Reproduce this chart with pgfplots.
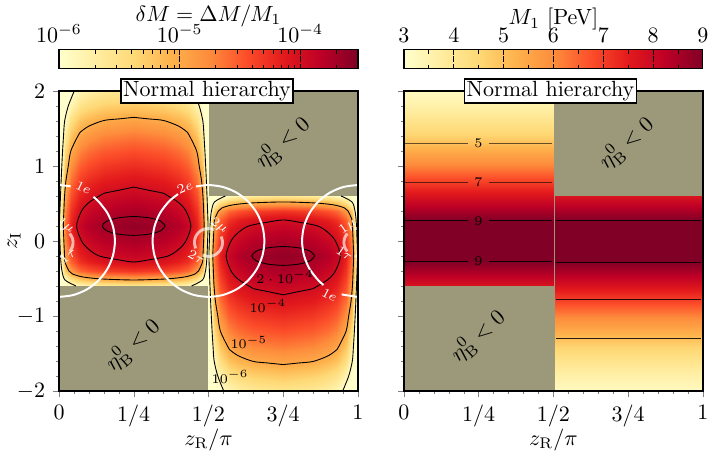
\documentclass[border=0pt]{standalone}
\usepackage{pgfplots}
\usepackage{pgfplotstable}
\pgfplotsset{compat=1.18}
\definecolor{bggray}{RGB}{156,153,123}
\tikzset{
 clab/.style={font=\fontsize{6}{7}\selectfont},
 wlab/.style={font=\fontsize{6}{7}\selectfont, text=white},
}
\pgfplotsset{
 colormap={ylorrd}{rgb255=(255,255,204) rgb255=(255,237,160) rgb255=(254,217,118) rgb255=(254,178,76) rgb255=(253,141,60) rgb255=(252,78,42) rgb255=(227,26,28) rgb255=(189,0,38) rgb255=(128,0,38)},
 mainax/.style={
   scale only axis, width=135.9pt, height=136.4pt,
   xmin=0,xmax=1,ymin=-2,ymax=2,
   axis background/.style={fill=bggray},
   axis on top, clip mode=individual,
   axis line style={line width=0.6pt},
   tick align=outside, tick pos=left,
   xtick={0,0.25,0.5,0.75,1}, xticklabels={$0$,$1/4$,$1/2$,$3/4$,$1$},
   minor x tick num=4, ytick={-2,-1,0,1,2}, minor y tick num=4,
   major tick length=2.8pt, minor tick length=1.5pt,
   xlabel={$z_{\mathrm{R}}/\pi$},
   xlabel style={at={(axis description cs:0.5,-0.163)},anchor=center},
   colorbar horizontal,
   colorbar style={at={(parent axis.north west)}, anchor=south west, yshift=18.6pt,
     width=135.9pt, height=8.6pt, scale only axis,
     xticklabel pos=right, xtick pos=both, tick align=inside,
     major tick length=8.6pt, minor tick length=1.8pt, axis on top,
     major tick style={black, line width=0.4pt, dash pattern=on 2.2pt off 1.2pt},
     minor tick style={black, line width=0.4pt},
     xlabel style={yshift=-8pt},
     axis line style={line width=0.5pt}},
 },
}
\pgfplotstableread[row sep=\\]{
x y c xr yr\\
0 2 -6 1 -2\\ 0.01 2 -6 0.99 -2\\ 0.02 2 -6 0.98 -2\\ 0.04 2 -6 0.96 -2\\ 0.07 2 -5.83 0.93 -2\\ 0.1 2 -5.72 0.9 -2\\ 0.15 2 -5.62 0.85 -2\\ 0.25 2 -5.55 0.75 -2\\ 0.35 2 -5.62 0.65 -2\\ 0.4 2 -5.72 0.6 -2\\ 0.43 2 -5.83 0.57 -2\\ 0.46 2 -6 0.54 -2\\ 0.48 2 -6 0.52 -2\\ 0.49 2 -6 0.51 -2\\ 0.5 2 -6 0.5 -2\\
0 1.8 -6 1 -1.8\\ 0.01 1.8 -6 0.99 -1.8\\ 0.02 1.8 -6 0.98 -1.8\\ 0.04 1.8 -5.8 0.96 -1.8\\ 0.07 1.8 -5.53 0.93 -1.8\\ 0.1 1.8 -5.42 0.9 -1.8\\ 0.15 1.8 -5.32 0.85 -1.8\\ 0.25 1.8 -5.25 0.75 -1.8\\ 0.35 1.8 -5.32 0.65 -1.8\\ 0.4 1.8 -5.42 0.6 -1.8\\ 0.43 1.8 -5.53 0.57 -1.8\\ 0.46 1.8 -5.8 0.54 -1.8\\ 0.48 1.8 -6 0.52 -1.8\\ 0.49 1.8 -6 0.51 -1.8\\ 0.5 1.8 -6 0.5 -1.8\\
0 1.6 -6 1 -1.6\\ 0.01 1.6 -6 0.99 -1.6\\ 0.02 1.6 -5.92 0.98 -1.6\\ 0.04 1.6 -5.47 0.96 -1.6\\ 0.07 1.6 -5.2 0.93 -1.6\\ 0.1 1.6 -5.09 0.9 -1.6\\ 0.15 1.6 -4.99 0.85 -1.6\\ 0.25 1.6 -4.92 0.75 -1.6\\ 0.35 1.6 -4.99 0.65 -1.6\\ 0.4 1.6 -5.09 0.6 -1.6\\ 0.43 1.6 -5.2 0.57 -1.6\\ 0.46 1.6 -5.47 0.54 -1.6\\ 0.48 1.6 -5.92 0.52 -1.6\\ 0.49 1.6 -6 0.51 -1.6\\ 0.5 1.6 -6 0.5 -1.6\\
0 1.4 -6 1 -1.4\\ 0.01 1.4 -6 0.99 -1.4\\ 0.02 1.4 -5.66 0.98 -1.4\\ 0.04 1.4 -5.21 0.96 -1.4\\ 0.07 1.4 -4.94 0.93 -1.4\\ 0.1 1.4 -4.83 0.9 -1.4\\ 0.15 1.4 -4.73 0.85 -1.4\\ 0.25 1.4 -4.66 0.75 -1.4\\ 0.35 1.4 -4.73 0.65 -1.4\\ 0.4 1.4 -4.83 0.6 -1.4\\ 0.43 1.4 -4.94 0.57 -1.4\\ 0.46 1.4 -5.21 0.54 -1.4\\ 0.48 1.4 -5.66 0.52 -1.4\\ 0.49 1.4 -6 0.51 -1.4\\ 0.5 1.4 -6 0.5 -1.4\\
0 1.2 -6 1 -1.2\\ 0.01 1.2 -6 0.99 -1.2\\ 0.02 1.2 -5.44 0.98 -1.2\\ 0.04 1.2 -4.99 0.96 -1.2\\ 0.07 1.2 -4.72 0.93 -1.2\\ 0.1 1.2 -4.61 0.9 -1.2\\ 0.15 1.2 -4.51 0.85 -1.2\\ 0.25 1.2 -4.44 0.75 -1.2\\ 0.35 1.2 -4.51 0.65 -1.2\\ 0.4 1.2 -4.61 0.6 -1.2\\ 0.43 1.2 -4.72 0.57 -1.2\\ 0.46 1.2 -4.99 0.54 -1.2\\ 0.48 1.2 -5.44 0.52 -1.2\\ 0.49 1.2 -6 0.51 -1.2\\ 0.5 1.2 -6 0.5 -1.2\\
0 1 -6 1 -1\\ 0.01 1 -5.95 0.99 -1\\ 0.02 1 -5.25 0.98 -1\\ 0.04 1 -4.8 0.96 -1\\ 0.07 1 -4.53 0.93 -1\\ 0.1 1 -4.42 0.9 -1\\ 0.15 1 -4.32 0.85 -1\\ 0.25 1 -4.25 0.75 -1\\ 0.35 1 -4.32 0.65 -1\\ 0.4 1 -4.42 0.6 -1\\ 0.43 1 -4.53 0.57 -1\\ 0.46 1 -4.8 0.54 -1\\ 0.48 1 -5.25 0.52 -1\\ 0.49 1 -5.95 0.51 -1\\ 0.5 1 -6 0.5 -1\\
0 0.8 -6 1 -0.8\\ 0.01 0.8 -5.77 0.99 -0.8\\ 0.02 0.8 -5.07 0.98 -0.8\\ 0.04 0.8 -4.62 0.96 -0.8\\ 0.07 0.8 -4.35 0.93 -0.8\\ 0.1 0.8 -4.24 0.9 -0.8\\ 0.15 0.8 -4.14 0.85 -0.8\\ 0.25 0.8 -4.07 0.75 -0.8\\ 0.35 0.8 -4.14 0.65 -0.8\\ 0.4 0.8 -4.24 0.6 -0.8\\ 0.43 0.8 -4.35 0.57 -0.8\\ 0.46 0.8 -4.62 0.54 -0.8\\ 0.48 0.8 -5.07 0.52 -0.8\\ 0.49 0.8 -5.77 0.51 -0.8\\ 0.5 0.8 -6 0.5 -0.8\\
0 0.6 -6 1 -0.6\\ 0.01 0.6 -5.6 0.99 -0.6\\ 0.02 0.6 -4.9 0.98 -0.6\\ 0.04 0.6 -4.45 0.96 -0.6\\ 0.07 0.6 -4.18 0.93 -0.6\\ 0.1 0.6 -4.07 0.9 -0.6\\ 0.15 0.6 -3.97 0.85 -0.6\\ 0.25 0.6 -3.9 0.75 -0.6\\ 0.35 0.6 -3.97 0.65 -0.6\\ 0.4 0.6 -4.07 0.6 -0.6\\ 0.43 0.6 -4.18 0.57 -0.6\\ 0.46 0.6 -4.45 0.54 -0.6\\ 0.48 0.6 -4.9 0.52 -0.6\\ 0.49 0.6 -5.6 0.51 -0.6\\ 0.5 0.6 -6 0.5 -0.6\\
0 0.4 -6 1 -0.4\\ 0.01 0.4 -5.44 0.99 -0.4\\ 0.02 0.4 -4.74 0.98 -0.4\\ 0.04 0.4 -4.29 0.96 -0.4\\ 0.07 0.4 -4.02 0.93 -0.4\\ 0.1 0.4 -3.91 0.9 -0.4\\ 0.15 0.4 -3.81 0.85 -0.4\\ 0.25 0.4 -3.74 0.75 -0.4\\ 0.35 0.4 -3.81 0.65 -0.4\\ 0.4 0.4 -3.91 0.6 -0.4\\ 0.43 0.4 -4.02 0.57 -0.4\\ 0.46 0.4 -4.29 0.54 -0.4\\ 0.48 0.4 -4.74 0.52 -0.4\\ 0.49 0.4 -5.44 0.51 -0.4\\ 0.5 0.4 -6 0.5 -0.4\\
0 0.2 -6 1 -0.2\\ 0.01 0.2 -5.32 0.99 -0.2\\ 0.02 0.2 -4.62 0.98 -0.2\\ 0.04 0.2 -4.17 0.96 -0.2\\ 0.07 0.2 -3.9 0.93 -0.2\\ 0.1 0.2 -3.79 0.9 -0.2\\ 0.15 0.2 -3.69 0.85 -0.2\\ 0.25 0.2 -3.62 0.75 -0.2\\ 0.35 0.2 -3.69 0.65 -0.2\\ 0.4 0.2 -3.79 0.6 -0.2\\ 0.43 0.2 -3.9 0.57 -0.2\\ 0.46 0.2 -4.17 0.54 -0.2\\ 0.48 0.2 -4.62 0.52 -0.2\\ 0.49 0.2 -5.32 0.51 -0.2\\ 0.5 0.2 -6 0.5 -0.2\\
0 0 -6 1 0\\ 0.01 0 -5.44 0.99 0\\ 0.02 0 -4.74 0.98 0\\ 0.04 0 -4.29 0.96 0\\ 0.07 0 -4.02 0.93 0\\ 0.1 0 -3.91 0.9 0\\ 0.15 0 -3.81 0.85 0\\ 0.25 0 -3.74 0.75 0\\ 0.35 0 -3.81 0.65 0\\ 0.4 0 -3.91 0.6 0\\ 0.43 0 -4.02 0.57 0\\ 0.46 0 -4.29 0.54 0\\ 0.48 0 -4.74 0.52 0\\ 0.49 0 -5.44 0.51 0\\ 0.5 0 -6 0.5 0\\
0 -0.2 -6 1 0.2\\ 0.01 -0.2 -5.6 0.99 0.2\\ 0.02 -0.2 -4.9 0.98 0.2\\ 0.04 -0.2 -4.45 0.96 0.2\\ 0.07 -0.2 -4.18 0.93 0.2\\ 0.1 -0.2 -4.07 0.9 0.2\\ 0.15 -0.2 -3.97 0.85 0.2\\ 0.25 -0.2 -3.9 0.75 0.2\\ 0.35 -0.2 -3.97 0.65 0.2\\ 0.4 -0.2 -4.07 0.6 0.2\\ 0.43 -0.2 -4.18 0.57 0.2\\ 0.46 -0.2 -4.45 0.54 0.2\\ 0.48 -0.2 -4.9 0.52 0.2\\ 0.49 -0.2 -5.6 0.51 0.2\\ 0.5 -0.2 -6 0.5 0.2\\
0 -0.28 -6 1 0.28\\ 0.01 -0.28 -5.7 0.99 0.28\\ 0.02 -0.28 -5 0.98 0.28\\ 0.04 -0.28 -4.55 0.96 0.28\\ 0.07 -0.28 -4.28 0.93 0.28\\ 0.1 -0.28 -4.17 0.9 0.28\\ 0.15 -0.28 -4.07 0.85 0.28\\ 0.25 -0.28 -4 0.75 0.28\\ 0.35 -0.28 -4.07 0.65 0.28\\ 0.4 -0.28 -4.17 0.6 0.28\\ 0.43 -0.28 -4.28 0.57 0.28\\ 0.46 -0.28 -4.55 0.54 0.28\\ 0.48 -0.28 -5 0.52 0.28\\ 0.49 -0.28 -5.7 0.51 0.28\\ 0.5 -0.28 -6 0.5 0.28\\
0 -0.4 -6 1 0.4\\ 0.01 -0.4 -6 0.99 0.4\\ 0.02 -0.4 -5.3 0.98 0.4\\ 0.04 -0.4 -4.85 0.96 0.4\\ 0.07 -0.4 -4.58 0.93 0.4\\ 0.1 -0.4 -4.47 0.9 0.4\\ 0.15 -0.4 -4.37 0.85 0.4\\ 0.25 -0.4 -4.3 0.75 0.4\\ 0.35 -0.4 -4.37 0.65 0.4\\ 0.4 -0.4 -4.47 0.6 0.4\\ 0.43 -0.4 -4.58 0.57 0.4\\ 0.46 -0.4 -4.85 0.54 0.4\\ 0.48 -0.4 -5.3 0.52 0.4\\ 0.49 -0.4 -6 0.51 0.4\\ 0.5 -0.4 -6 0.5 0.4\\
0 -0.52 -6 1 0.52\\ 0.01 -0.52 -6 0.99 0.52\\ 0.02 -0.52 -6 0.98 0.52\\ 0.04 -0.52 -5.55 0.96 0.52\\ 0.07 -0.52 -5.28 0.93 0.52\\ 0.1 -0.52 -5.17 0.9 0.52\\ 0.15 -0.52 -5.07 0.85 0.52\\ 0.25 -0.52 -5 0.75 0.52\\ 0.35 -0.52 -5.07 0.65 0.52\\ 0.4 -0.52 -5.17 0.6 0.52\\ 0.43 -0.52 -5.28 0.57 0.52\\ 0.46 -0.52 -5.55 0.54 0.52\\ 0.48 -0.52 -6 0.52 0.52\\ 0.49 -0.52 -6 0.51 0.52\\ 0.5 -0.52 -6 0.5 0.52\\
0 -0.6 -6 1 0.6\\ 0.01 -0.6 -6 0.99 0.6\\ 0.02 -0.6 -6 0.98 0.6\\ 0.04 -0.6 -6 0.96 0.6\\ 0.07 -0.6 -5.88 0.93 0.6\\ 0.1 -0.6 -5.77 0.9 0.6\\ 0.15 -0.6 -5.67 0.85 0.6\\ 0.25 -0.6 -5.6 0.75 0.6\\ 0.35 -0.6 -5.67 0.65 0.6\\ 0.4 -0.6 -5.77 0.6 0.6\\ 0.43 -0.6 -5.88 0.57 0.6\\ 0.46 -0.6 -6 0.54 0.6\\ 0.48 -0.6 -6 0.52 0.6\\ 0.49 -0.6 -6 0.51 0.6\\ 0.5 -0.6 -6 0.5 0.6\\
}\tabA
\pgfplotstableread[row sep=\\]{
x y m xr yr\\
0 2 3.2 1 -2\\ 0.5 2 3.2 0.505 -2\\
0 1.8 3.6 1 -1.8\\ 0.5 1.8 3.6 0.505 -1.8\\
0 1.6 4.1 1 -1.6\\ 0.5 1.6 4.1 0.505 -1.6\\
0 1.4 4.62 1 -1.4\\ 0.5 1.4 4.62 0.505 -1.4\\
0 1.2 5.4 1 -1.2\\ 0.5 1.2 5.4 0.505 -1.2\\
0 1 6.1 1 -1\\ 0.5 1 6.1 0.505 -1\\
0 0.8 6.91 1 -0.8\\ 0.5 0.8 6.91 0.505 -0.8\\
0 0.6 7.7 1 -0.6\\ 0.5 0.6 7.7 0.505 -0.6\\
0 0.4 8.5 1 -0.4\\ 0.5 0.4 8.5 0.505 -0.4\\
0 0.267 9 1 -0.267\\ 0.5 0.267 9 0.505 -0.267\\
0 0 9 1 0\\ 0.5 0 9 0.505 0\\
0 -0.271 9 1 0.271\\ 0.5 -0.271 9 0.505 0.271\\
0 -0.4 8.5 1 0.4\\ 0.5 -0.4 8.5 0.505 0.4\\
0 -0.6 7.7 1 0.6\\ 0.5 -0.6 7.7 0.505 0.6\\
}\tabB
\begin{document}
\begin{tikzpicture}
\useasboundingbox (-26.82pt,-30.91pt) rectangle (295.45pt,177.73pt);
% ---------------- left panel ----------------
\begin{axis}[mainax, name=ax1, at={(0,0)}, anchor=south west,
  ylabel={$z_{\mathrm{I}}$}, ylabel style={at={(axis description cs:-0.15,0.5)},anchor=center},
  point meta min=-6, point meta max=-3.52,
  colorbar style={xlabel={$\delta M = \Delta M/M_1$},
    xtick={-6,-5,-4}, xticklabels={$10^{-6}$,$10^{-5}$,$10^{-4}$},
    minor xtick={-5.699,-5.523,-5.398,-5.301,-5.222,-5.155,-5.097,-5.046,-4.699,-4.523,-4.398,-4.301,-4.222,-4.155,-4.097,-4.046,-3.699,-3.523}}]
\addplot[surf, shader=interp, mesh/cols=15, point meta=explicit] table[x=x, y=y, meta=c] {\tabA};
\addplot[surf, shader=interp, mesh/cols=15, point meta=explicit] table[x=xr, y=yr, meta=c] {\tabA};
% contours left region
\addplot[black, line width=0.4pt, smooth] coordinates {(0.0567,-0.6) (0.02,-0.52) (0.01,-0.4) (0.0063,-0.28) (0.005,-0.2) (0.003,0) (0.0015,0.2) (0.003,0.4) (0.005,0.6) (0.0071,0.8) (0.0094,1) (0.012,1.2) (0.0151,1.4) (0.0189,1.6) (0.0311,1.8) (0.0511,2)};
\addplot[black, line width=0.4pt, smooth] coordinates {(0.4433,-0.6) (0.48,-0.52) (0.49,-0.4) (0.4937,-0.28) (0.495,-0.2) (0.497,0) (0.4985,0.2) (0.497,0.4) (0.495,0.6) (0.4929,0.8) (0.4906,1) (0.488,1.2) (0.4849,1.4) (0.4811,1.6) (0.4689,1.8) (0.4489,2)};
\addplot[black, line width=0.4pt, smooth] coordinates {(0.25,1.648) (0.2,1.627) (0.15,1.606) (0.1,1.531) (0.07,1.446) (0.0633,1.4) (0.0396,1.2) (0.0311,1) (0.0231,0.8) (0.0186,0.6) (0.0163,0.4) (0.0146,0.2) (0.0163,0) (0.0186,-0.2) (0.02,-0.28) (0.0333,-0.4) (0.045,-0.44) (0.07,-0.472) (0.1,-0.491) (0.15,-0.508) (0.25,-0.52) (0.35,-0.508) (0.4,-0.491) (0.43,-0.472) (0.455,-0.44) (0.4667,-0.4) (0.48,-0.28) (0.4814,-0.2) (0.4837,0) (0.4854,0.2) (0.4837,0.4) (0.4814,0.6) (0.4769,0.8) (0.4689,1) (0.4604,1.2) (0.4367,1.4) (0.43,1.446) (0.4,1.531) (0.35,1.606) (0.3,1.627) (0.25,1.648)};
\addplot[black, line width=0.4pt, smooth] coordinates {(0.25,0.718) (0.2,0.676) (0.15,0.635) (0.135,0.6) (0.1,0.5125) (0.0755,0.4) (0.0589,0.2) (0.0755,0) (0.1,-0.1125) (0.135,-0.2) (0.2,-0.252) (0.25,-0.28) (0.3,-0.252) (0.365,-0.2) (0.4,-0.1125) (0.4245,0) (0.4411,0.2) (0.4245,0.4) (0.4,0.5125) (0.365,0.6) (0.35,0.635) (0.3,0.676) (0.25,0.718)};
\addplot[black, line width=0.4pt, smooth] coordinates {(0.355,0.2) (0.341,0.2625) (0.3025,0.308) (0.25,0.325) (0.1975,0.308) (0.159,0.2625) (0.145,0.2) (0.159,0.1375) (0.1975,0.092) (0.25,0.075) (0.3025,0.092) (0.341,0.1375) (0.355,0.2)};
% contours right region
\addplot[black, line width=0.4pt, smooth] coordinates {(0.9433,0.6) (0.98,0.52) (0.99,0.4) (0.9937,0.28) (0.995,0.2) (0.997,0) (0.9985,-0.2) (0.997,-0.4) (0.995,-0.6) (0.9929,-0.8) (0.9906,-1) (0.988,-1.2) (0.9849,-1.4) (0.9811,-1.6) (0.9689,-1.8) (0.9489,-2)};
\addplot[black, line width=0.4pt, smooth] coordinates {(0.5567,0.6) (0.52,0.52) (0.51,0.4) (0.5063,0.28) (0.505,0.2) (0.503,0) (0.5015,-0.2) (0.503,-0.4) (0.505,-0.6) (0.5071,-0.8) (0.5094,-1) (0.512,-1.2) (0.5151,-1.4) (0.5189,-1.6) (0.5311,-1.8) (0.5511,-2)};
\addplot[black, line width=0.4pt, smooth] coordinates {(0.75,-1.648) (0.8,-1.627) (0.85,-1.606) (0.9,-1.531) (0.93,-1.446) (0.9367,-1.4) (0.9604,-1.2) (0.9689,-1) (0.9769,-0.8) (0.9814,-0.6) (0.9837,-0.4) (0.9854,-0.2) (0.9837,0) (0.9814,0.2) (0.98,0.28) (0.9667,0.4) (0.955,0.44) (0.93,0.472) (0.9,0.491) (0.85,0.508) (0.75,0.52) (0.65,0.508) (0.6,0.491) (0.57,0.472) (0.545,0.44) (0.5333,0.4) (0.52,0.28) (0.5186,0.2) (0.5163,0) (0.5146,-0.2) (0.5163,-0.4) (0.5186,-0.6) (0.5231,-0.8) (0.5311,-1) (0.5396,-1.2) (0.5633,-1.4) (0.57,-1.446) (0.6,-1.531) (0.65,-1.606) (0.7,-1.627) (0.75,-1.648)};
\addplot[black, line width=0.4pt, smooth] coordinates {(0.75,-0.718) (0.8,-0.676) (0.85,-0.635) (0.865,-0.6) (0.9,-0.5125) (0.9245,-0.4) (0.9411,-0.2) (0.9245,0) (0.9,0.1125) (0.865,0.2) (0.8,0.252) (0.75,0.28) (0.7,0.252) (0.635,0.2) (0.6,0.1125) (0.5755,0) (0.5589,-0.2) (0.5755,-0.4) (0.6,-0.5125) (0.635,-0.6) (0.65,-0.635) (0.7,-0.676) (0.75,-0.718)};
\addplot[black, line width=0.4pt, smooth] coordinates {(0.855,-0.2) (0.841,-0.1375) (0.8025,-0.092) (0.75,-0.075) (0.6975,-0.092) (0.659,-0.1375) (0.645,-0.2) (0.659,-0.2625) (0.6975,-0.308) (0.75,-0.325) (0.8025,-0.308) (0.841,-0.2625) (0.855,-0.2)};
% big white circles
\addplot[white, line width=0.9pt, smooth] coordinates {(-0.0325,-0.7338) (0,-0.745) (0.0484,-0.7197) (0.0935,-0.6452) (0.1322,-0.5267) (0.1619,-0.3725) (0.1806,-0.193) (0.187,0) (0.1806,0.193) (0.1619,0.3725) (0.1322,0.5267) (0.1152,0.587)};
\addplot[white, line width=0.9pt, smooth] coordinates {(0.0389,0.7286) (0,0.745) (-0.0325,0.7338)};
\addplot[white, line width=0.9pt, smooth] coordinates {(0.3981,0.625) (0.3678,0.5267) (0.3381,0.3725) (0.3194,0.193) (0.313,0) (0.3194,-0.193) (0.3381,-0.3725) (0.3678,-0.5267) (0.4065,-0.6452) (0.4516,-0.7197) (0.5,-0.745) (0.5484,-0.7197) (0.5935,-0.6452) (0.6322,-0.5267) (0.6619,-0.3725) (0.6806,-0.193) (0.687,0) (0.6806,0.193) (0.6619,0.3725) (0.6322,0.5267) (0.5935,0.6452) (0.5484,0.7197) (0.5,0.745) (0.4579,0.7258)};
\addplot[white, line width=0.9pt, smooth] coordinates {(1.0325,0.7338) (1,0.745) (0.9516,0.7197) (0.9065,0.6452) (0.8678,0.5267) (0.8381,0.3725) (0.8194,0.193) (0.813,0) (0.8194,-0.193) (0.8381,-0.3725) (0.8678,-0.5267) (0.8848,-0.587)};
\addplot[white, line width=0.9pt, smooth] coordinates {(0.9454,-0.7122) (1,-0.745) (1.0325,-0.7338)};
% small circles
\addplot[white, opacity=0.65, line width=1.3pt, smooth] coordinates {(0.036,-0.1402) (0.0442,-0.084) (0.047,-0.02) (0.0442,0.044) (0.036,0.1002)};
\addplot[white, opacity=0.65, line width=1.3pt, smooth] coordinates {(0.0122,0.1606) (0,0.167) (-0.0082,0.1642)};
\addplot[white, opacity=0.65, line width=1.3pt, smooth] coordinates {(-0.0082,-0.2042) (0,-0.207) (0.0122,-0.2006)};
\addplot[white, opacity=0.65, line width=1.3pt, smooth] coordinates {(0.5199,0.1494) (0.5041,0.1663) (0.4878,0.1606) (0.473,0.1332) (0.4615,0.0873) (0.4546,0.0284) (0.4532,-0.0363) (0.4574,-0.0991)};
\addplot[white, opacity=0.65, line width=1.3pt, smooth] coordinates {(0.4801,-0.1894) (0.4959,-0.2063) (0.5122,-0.2006) (0.527,-0.1732) (0.5385,-0.1273) (0.5454,-0.0684) (0.5468,-0.0037) (0.5426,0.0591)};
\addplot[white, opacity=0.65, line width=1.3pt, smooth] coordinates {(0.964,0.1002) (0.9558,0.044) (0.953,-0.02) (0.9558,-0.084) (0.964,-0.1402)};
\addplot[white, opacity=0.65, line width=1.3pt, smooth] coordinates {(1.0082,0.1642) (1,0.167) (0.9878,0.1606)};
\addplot[white, opacity=0.65, line width=1.3pt, smooth] coordinates {(0.9878,-0.2006) (1,-0.207) (1.0082,-0.2042)};
% labels
\node[wlab, rotate=-25] at (axis cs:0.082,0.71) {$1e$};
\node[wlab, rotate=25] at (axis cs:0.421,0.71) {$2e$};
\node[wlab, rotate=-28] at (axis cs:0.905,-0.72) {$1e$};
\node[wlab, rotate=-35] at (axis cs:0.022,0.2) {$1\mu$};
\node[wlab, rotate=35] at (axis cs:0.03,-0.2) {$1\tau$};
\node[wlab, rotate=-35] at (axis cs:0.535,0.2) {$2\mu$};
\node[wlab, rotate=-30] at (axis cs:0.46,-0.21) {$2\tau$};
\node[wlab, rotate=35] at (axis cs:0.967,0.19) {$1\mu$};
\node[wlab, rotate=-35] at (axis cs:0.955,-0.17) {$1\tau$};
\node[clab] at (axis cs:0.756,-0.48) {$2\cdot 10^{-4}$};
\node[clab] at (axis cs:0.699,-0.867) {$10^{-4}$};
\node[clab] at (axis cs:0.635,-1.353) {$10^{-5}$};
\node[clab] at (axis cs:0.572,-1.813) {$10^{-6}$};
\node[rotate=42] at (axis cs:0.749,1.307) {$\eta^{0}_{\mathrm{B}}<0$};
\node[rotate=42] at (axis cs:0.248,-1.387) {$\eta^{0}_{\mathrm{B}}<0$};
\coordinate (nh1) at (rel axis cs:0.495,1);
\end{axis}
% ---------------- right panel ----------------
\begin{axis}[mainax, name=ax2, at={(156.8pt,0)}, anchor=south west,
  yticklabels={},
  point meta min=3, point meta max=9,
  colorbar style={xlabel={$M_1$ [PeV]}, xtick={3,4,5,6,7,8,9},
    minor xtick={3.5,4.5,5.5,6.5,7.5,8.5}}]
\addplot[surf, shader=interp, mesh/cols=2, point meta=explicit] table[x=x, y=y, meta=m] {\tabB};
\addplot[surf, shader=interp, mesh/cols=2, point meta=explicit] table[x=xr, y=yr, meta=m] {\tabB};
\addplot[black, opacity=0.6, line width=0.5pt, unbounded coords=jump] coordinates {(0.003,1.298) (0.214,1.298) (0.25,nan) (0.284,1.298) (0.494,1.298) (0.25,nan) (0.003,0.778) (0.214,0.778) (0.25,nan) (0.284,0.778) (0.494,0.778)};
\addplot[black, opacity=0.85, line width=0.5pt, unbounded coords=jump] coordinates {(0.003,0.267) (0.214,0.267) (0.25,nan) (0.284,0.267) (0.494,0.267) (0.25,nan) (0.003,-0.271) (0.214,-0.271) (0.25,nan) (0.284,-0.271) (0.494,-0.271)};
\addplot[black, opacity=0.85, line width=0.5pt, unbounded coords=jump] coordinates {(0.507,0.267) (0.995,0.267) (0.75,nan) (0.507,-0.284) (0.995,-0.284) (0.75,nan) (0.507,-0.778) (0.995,-0.778) (0.75,nan) (0.507,-1.298) (0.995,-1.298)};
\node[clab] at (axis cs:0.249,1.298) {$5$};
\node[clab] at (axis cs:0.249,0.778) {$7$};
\node[clab] at (axis cs:0.249,0.267) {$9$};
\node[clab] at (axis cs:0.249,-0.271) {$9$};
\node[rotate=42] at (axis cs:0.745,1.3) {$\eta^{0}_{\mathrm{B}}<0$};
\node[rotate=42] at (axis cs:0.249,-1.276) {$\eta^{0}_{\mathrm{B}}<0$};
\coordinate (nh2) at (rel axis cs:0.49,1);
\end{axis}
\node[draw, fill=white, inner sep=1pt, line width=0.6pt] at (nh1) {Normal hierarchy};
\node[draw, fill=white, inner sep=1pt, line width=0.6pt] at (nh2) {Normal hierarchy};
\end{tikzpicture}
\end{document}
